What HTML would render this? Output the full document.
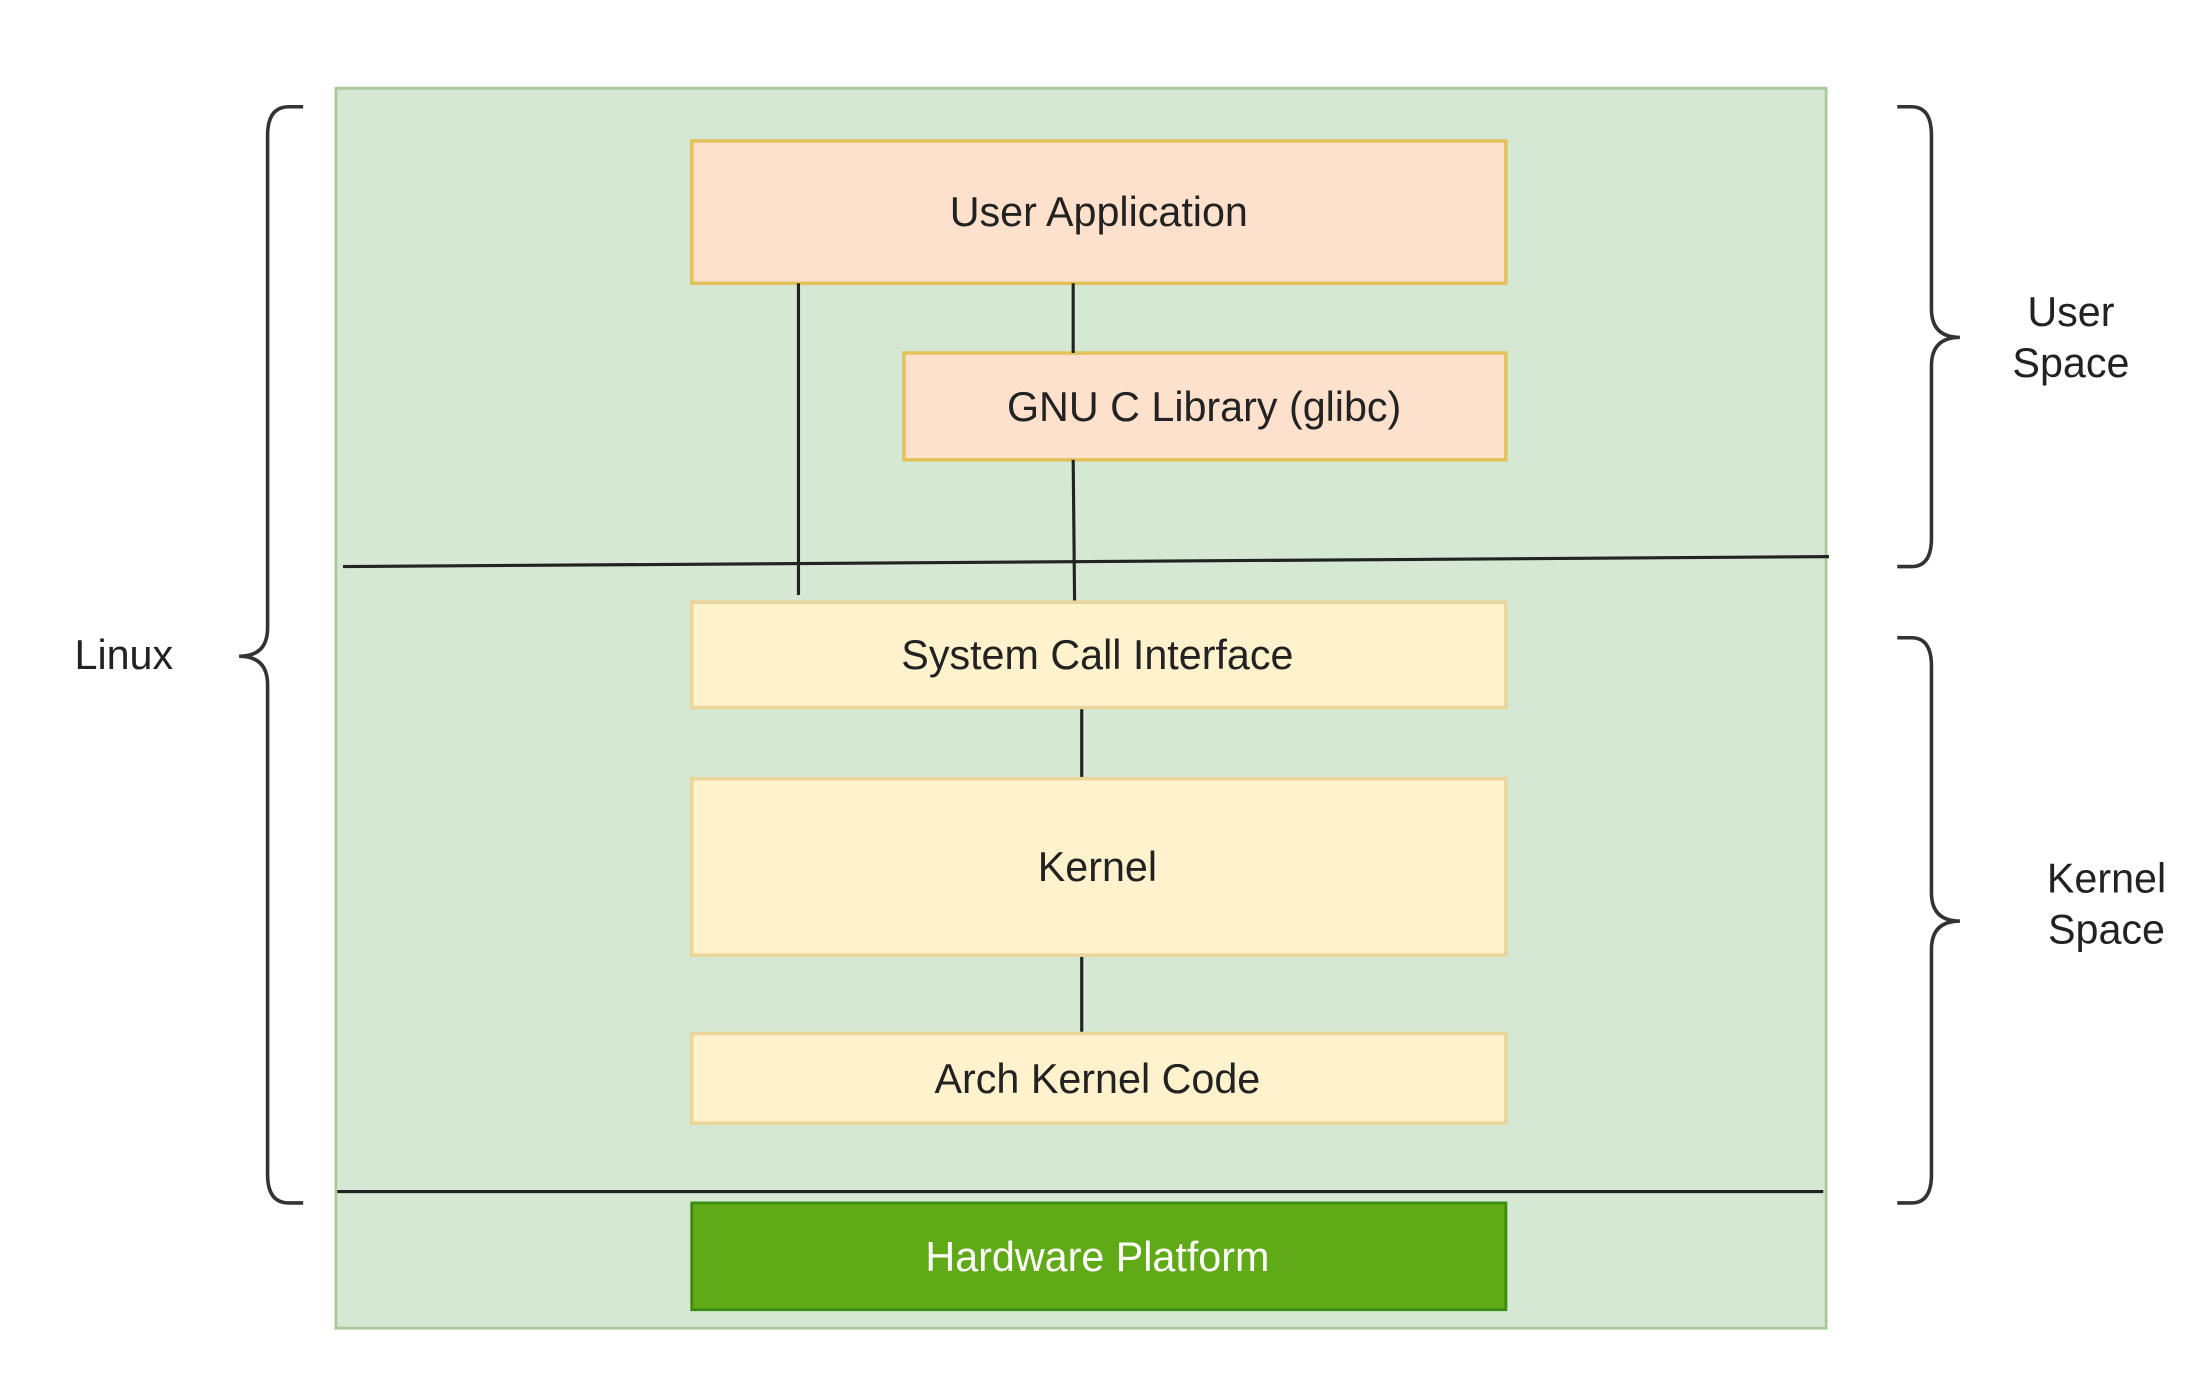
<!DOCTYPE html>
<html><head><style>html,body{margin:0;padding:0;background:#fff;}svg{display:block}</style></head>
<body>
<svg width="2209" height="1388" viewBox="0 0 1552 975" preserveAspectRatio="none" xmlns="http://www.w3.org/2000/svg" font-family="Liberation Sans, Arial, sans-serif" font-size="29" fill="#222">
<rect x="236" y="62" width="1047" height="871" fill="#d5e8d4" stroke="#a9c99a" stroke-width="2"/>
<rect x="486" y="99" width="572" height="100" fill="#fde1cc" stroke="#e3c25c" stroke-width="2.5"/>
<rect x="635" y="248" width="423" height="75" fill="#fde1cc" stroke="#e3c25c" stroke-width="2.5"/>
<g stroke="#222" stroke-width="2.2">
<line x1="561" y1="199" x2="561" y2="418"/>
<line x1="754" y1="199" x2="754" y2="248"/>
<line x1="754" y1="323" x2="755" y2="424"/>
<line x1="241" y1="398" x2="1285" y2="391"/>
<line x1="760" y1="497" x2="760" y2="547"/>
<line x1="760" y1="671" x2="760" y2="726"/>
<line x1="237" y1="837" x2="1281" y2="837"/>
</g>
<rect x="486" y="423" width="572" height="74" fill="#fff2cc" stroke="#ead59a" stroke-width="2.5"/>
<rect x="486" y="547" width="572" height="124" fill="#fff2cc" stroke="#ead59a" stroke-width="2.5"/>
<rect x="486" y="726" width="572" height="63" fill="#fff2cc" stroke="#ead59a" stroke-width="2.5"/>
<rect x="486" y="845" width="572" height="75" fill="#60a917" stroke="#3d8a10" stroke-width="2"/>
<g text-anchor="middle" dominant-baseline="central">
<text x="772" y="149">User Application</text>
<text x="846" y="286">GNU C Library (glibc)</text>
<text x="771" y="460">System Call Interface</text>
<text x="771" y="609">Kernel</text>
<text x="771" y="758">Arch Kernel Code</text>
<text x="771" y="883" fill="#fff">Hardware Platform</text>
<text x="87" y="460">Linux</text>
<text x="1455" y="219">User</text>
<text x="1455" y="255">Space</text>
<text x="1480" y="617">Kernel</text>
<text x="1480" y="653">Space</text>
</g>
<g fill="none" stroke="#333" stroke-width="2.5">
<path d="M213 75 H203 Q188 75 188 95 V441 Q188 461 168 461 Q188 461 188 481 V825 Q188 845 203 845 H213"/>
<path d="M1333 75 H1343 Q1357 75 1357 95 V217 Q1357 237 1377 237 Q1357 237 1357 257 V378 Q1357 398 1343 398 H1333"/>
<path d="M1333 448 H1343 Q1357 448 1357 468 V627 Q1357 647 1377 647 Q1357 647 1357 667 V825 Q1357 845 1343 845 H1333"/>
</g>
</svg>
</body></html>
